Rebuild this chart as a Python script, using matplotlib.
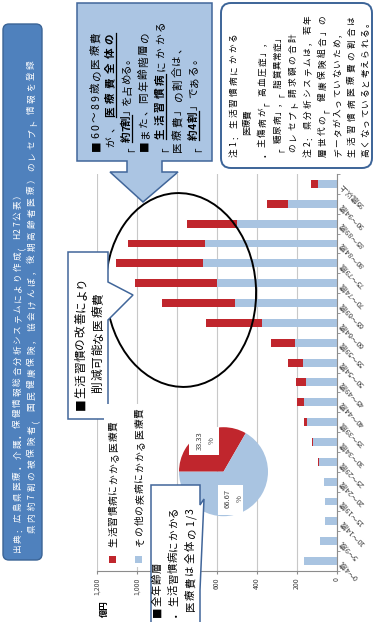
import numpy as np
import matplotlib
matplotlib.use("Agg")
import matplotlib.pyplot as plt
from matplotlib.patches import Rectangle, Polygon, Ellipse, FancyBboxPatch

JP = ["Noto Sans CJK JP", "DejaVu Sans"]
plt.rcParams["font.family"] = JP

# medical cost by age group (100 million yen)
ages = ["0～4歳", "5～9歳", "10～14歳", "15～19歳", "20～24歳", "25～29歳",
        "30～34歳", "35～39歳", "40～44歳", "45～49歳", "50～54歳", "55～59歳",
        "60～64歳", "65～69歳", "70～74歳", "75～79歳", "80～84歳", "85～89歳",
        "90～94歳", "95歳以上"]
other = [165, 83, 60, 58, 62, 90, 117, 147, 165, 153, 167, 207,
         373, 510, 601, 668, 657, 498, 245, 92]
lifestyle = [0, 0, 1, 1, 3, 5, 8, 18, 35, 48, 75, 123,
             280, 364, 408, 437, 387, 252, 105, 35]
value_ticks = [0, 200, 400, 600, 800, 1000, 1200]
# 800 sits under the callout box, so it carries no label
value_labels = ["0", "200", "400", "600", "", "1,000", "1,200"]

# whole-population share (%)
shares = [33.33, 66.67]

RED = "#C0262D"
BLUE = "#A9C4E1"
EDGE = "#41669A"
GRAY = "#404040"

W, H = 374, 622
fig = plt.figure(figsize=(W / 100, H / 100), dpi=100)

# bar chart, drawn turned on its side: value grows to the left
ax = fig.add_axes([96.7 / W, (H - 571) / H, 240 / W, 397 / H], zorder=1)
y = np.arange(len(ages))
ax.barh(y, other, height=0.4, color=BLUE, zorder=2)
ax.barh(y, lifestyle, left=other, height=0.4, color=RED, zorder=2)
ax.set_xlim(1200, 0)
ax.set_ylim(-0.5, len(ages) - 0.5)
ax.grid(axis="x", color="#C8C8C8", lw=0.8)
ax.set_axisbelow(True)
for s in ["top", "left"]:
    ax.spines[s].set_visible(False)
for s in ["right", "bottom"]:
    ax.spines[s].set_color("#8C8C8C")
    ax.spines[s].set_linewidth(0.8)

ax.yaxis.tick_right()
ax.set_yticks(y)
ax.set_yticklabels(ages, rotation=135, rotation_mode="anchor", ha="right",
                   va="center", fontsize=5.5, color=GRAY)
ax.set_yticks(np.arange(-0.5, len(ages), 1), minor=True)
ax.tick_params(axis="y", which="major", length=0, pad=3)
ax.tick_params(axis="y", which="minor", length=2.5, color="#8C8C8C")

ax.set_xticks(value_ticks)
ax.set_xticklabels(value_labels, rotation=90, rotation_mode="anchor",
                   ha="right", va="center", fontsize=5, color=GRAY)
ax.tick_params(axis="x", length=2.5, pad=2, color="#8C8C8C")

# pie of the whole population
pax = fig.add_axes([(223.5 - 44.5) / W, (H - 471.7 - 44.5) / H, 89 / W, 89 / H], zorder=2)
pax.pie(shares, colors=[RED, BLUE], startangle=180, counterclock=False,
        radius=1, wedgeprops=dict(linewidth=0))
pax.set_xlim(-1, 1)
pax.set_ylim(-1, 1)

# overlay in pixel coordinates for boxes and notes
ov = fig.add_axes([0, 0, 1, 1], zorder=3)
ov.set_xlim(0, W)
ov.set_ylim(H, 0)
ov.axis("off")


def adv(ch):
    if ch.isascii():
        return 0.3 if ch in " ,./" else 0.56
    return 1.0


def vline(x, y0, y1, s, size, color="black"):
    """Text turned 90 degrees, spread from y0 (bottom) up to y1.
    Runs between * are bold and underlined."""
    em = size * 100 / 72
    chars, bold = [], False
    for ch in s:
        if ch == "*":
            bold = not bold
        else:
            chars.append((ch, bold))
    total = sum(adv(c) for c, _ in chars) * em
    gap = (y0 - y1 - total) / max(len(chars) - 1, 1)
    base = x + 0.38 * em
    yy = y0
    run = None
    for i, (ch, b) in enumerate(chars):
        if b and run is None:
            run = yy
        ov.text(base, yy, ch, rotation=90, rotation_mode="anchor", ha="left",
                va="baseline", fontsize=size, color=color,
                fontweight="bold" if b else "normal")
        yy -= adv(ch) * em + gap
        last = i == len(chars) - 1
        if run is not None and (last or not chars[i + 1][1]):
            ov.plot([base + 0.22 * em] * 2, [run, yy + gap], color=color, lw=0.9)
            run = None


# source band
ov.add_patch(FancyBboxPatch((3, 24), 39, 536, boxstyle="round,pad=0,rounding_size=6",
                            fc="#4F81BD", ec="#3B6496", lw=1))
vline(17, 553, 190, "出典：広島県医療・介護・保健情報総合分析システムにより作成（H27公表）",
      6.2, "white")
vline(31, 533, 60, "県内約7割の被保険者（国民健康保険，協会けんぽ，後期高齢者医療）のレセプト情報を登録",
      6.2, "white")

# circle around the 60-89 age groups
ov.add_patch(Ellipse((181, 290), 150, 194, angle=-3.5, fill=False, ec="black", lw=1.4))

# arrow callout
ov.add_patch(Polygon([(77, 3), (212, 3), (212, 161), (162, 161), (162, 172), (178, 172),
                      (143, 202), (110, 172), (127, 172), (127, 161), (77, 161)],
                     closed=True, fc="#ABC5E3", ec=EDGE, lw=1.1))
vline(95, 151, 32, "■60～89歳の医療費", 7.6)
vline(110, 147, 33, "が、*医療費全体の*", 7.6)
vline(126, 152, 53, "「*約7割*」を占める。", 7.6)
vline(143, 151, 32, "■また、同年齢階層の", 7.6)
vline(160, 152, 20, "「*生活習慣病*にかかる", 7.6)
vline(177, 152, 42, "医療費」の割合は、", 7.6)
vline(193, 152, 53, "「*約4割*」である。", 7.6)

# notes
ov.add_patch(FancyBboxPatch((221, 3), 151, 165, boxstyle="round,pad=0,rounding_size=10",
                            fc="white", ec="#3C6498", lw=1.4))
notes = [
    (233, 157, 33, "注1：生活習慣病にかかる"),
    (247, 135, 110, "医療費"),
    (262, 157, 37, "・主傷病が「高血圧症」，"),
    (277, 152, 33, "「糖尿病」，「脂質異常症」"),
    (292, 152, 33, "のレセプト請求額の合計"),
    (307, 157, 15, "注2：県分析システムは，若年"),
    (322, 157, 15, "層世代の「健康保険組合」の"),
    (337, 157, 28, "データが入っていないため，"),
    (351, 157, 15, "生活習慣病医療費の割合は"),
    (365, 157, 18, "高くなっていると考えられる。"),
]
for nx, n0, n1, txt in notes:
    vline(nx, n0, n1, txt, 6.2)

# callout for the circled groups
ov.add_patch(Polygon([(68, 252), (108, 252), (108, 282), (133, 295), (108, 320),
                      (108, 419), (68, 419)], closed=True, fc="white", ec=EDGE, lw=1.1))
vline(80, 410, 276, "■生活習慣の改善により", 8.4)
vline(97, 393, 293, "削減可能な医療費", 8.4)

# legend
ov.add_patch(Rectangle((104, 404), 42, 163, fc="white", ec="none"))
ov.add_patch(Rectangle((109.5, 555.5), 7, 7, fc=RED, ec="none"))
ov.add_patch(Rectangle((135.5, 555.5), 7, 7, fc=BLUE, ec="none"))
vline(113, 547, 421, "生活習慣病にかかる医療費", 7)
vline(139, 547, 408, "その他の疾病にかかる医療費", 7)

# pie labels
ov.add_patch(Rectangle((189, 427), 30, 28, fc="white", ec="none"))
ov.text(200, 441, f"{shares[0]:.2f}", rotation=90, ha="center", va="center",
        fontsize=5.5, color=GRAY)
ov.text(212, 441, "%", rotation=90, ha="center", va="center", fontsize=5.5, color=GRAY)
ov.add_patch(Rectangle((218, 485), 25, 30, fc="white", ec="none"))
ov.text(228, 499, f"{shares[1]:.2f}", rotation=90, ha="center", va="center",
        fontsize=5.5, color=GRAY)
ov.text(240, 499, "%", rotation=90, ha="center", va="center", fontsize=5.5, color=GRAY)

# whole-population callout
ov.add_patch(Polygon([(151, 485), (200, 485), (200, 505), (204, 499), (200, 590),
                      (200, 626), (151, 626)], closed=True, fc="white", ec=EDGE, lw=1.1))
vline(157, 617, 563, "■全年齢層", 7.5)
vline(173, 617, 507, "・生活習慣病にかかる", 7.5)
vline(190, 612, 508, "医療費は全体の1/3", 7.5)

# unit label
ov.text(104, 609, "億円", rotation=90, ha="center", va="center", fontsize=6,
        fontweight="bold", color="black")

fig.savefig("out.png", dpi=100)
